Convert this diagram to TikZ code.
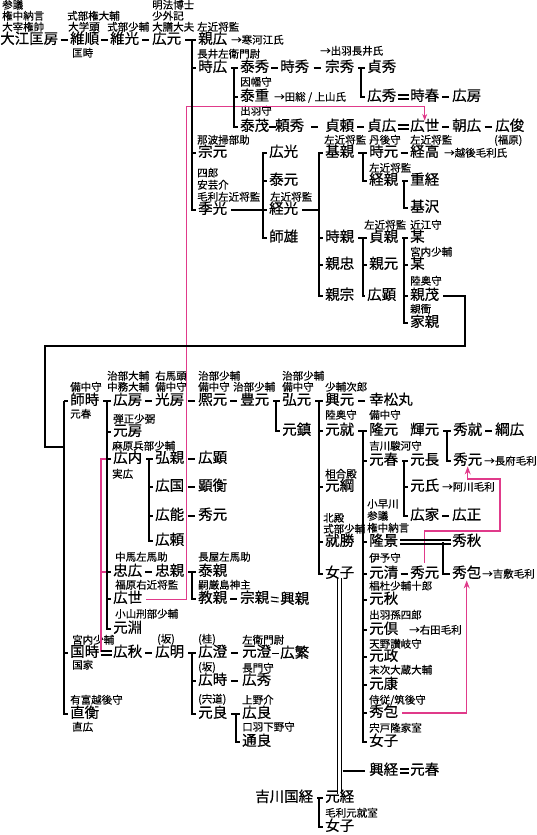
\documentclass[tikz,border=0pt]{standalone}
\usepackage{fontspec}
\setmainfont{Noto Sans CJK JP}
\newfontfamily\namefont[FakeBold=0.6]{Noto Sans CJK JP}
\newfontfamily\notefont[FakeBold=0.25]{Noto Sans CJK JP}
\usetikzlibrary{arrows.meta,calc}
\definecolor{tiepink}{HTML}{E03A8A}
\tikzset{
  every picture/.style={line join=miter, line cap=butt, >=Stealth},
  nm/.style={anchor=west, inner sep=0pt, text height=0.8em, text depth=0.05em, font=\namefont\fontsize{14.5}{16}\selectfont},
  nt/.style={anchor=west, inner sep=0pt, text height=0.8em, text depth=0.05em, font=\notefont\fontsize{10.5}{12}\selectfont},
  link/.style={line width=1.8pt},
  eqline/.style={line width=1.1pt},
  tie/.style={draw=tiepink, line width=1.1pt},
}
% parent -> children, the bar sits just left of the first child
\newcommand\kids[2]{%
  \foreach \c [count=\i] in {#2}{%
    \ifnum\i=1 \global\let\firstkid\c\fi
    \draw[link] ([xshift=4pt]#1.east) -| ($(\firstkid.west)+(-6pt,0)$) |- ([xshift=-2pt]\c.west);
  }}
\begin{document}
\begin{tikzpicture}[x=1pt,y=-1pt]
\useasboundingbox (0,0) rectangle (537,835);

% names
\foreach \n/\x/\y/\t in {
  masafusa/0/40/大江匡房, korenobu/70/40/維順, koremitsu/110/40/維光, hiromoto/152/40/広元,
  chikahiro/198/40/親広, tokihiro/198/68/時広, yasuhide/240/68/泰秀, tokihide/280/68/時秀,
  munehide/325/68/宗秀, sadahide/367/68/貞秀, hirohide/367/97/広秀, tokiharu/410/97/時春,
  hirofusa/452/97/広房, yasushige/240/97/泰重, yasumochi/240/127/泰茂, yorihide/275/127/頼秀,
  sadayori/325/127/貞頼, sadahiro/367/127/貞広, hiroyo/410/127/広世, tomohiro/452/127/朝広,
  hirotoshi/495/127/広俊, munemoto/198/153/宗元, suemitsu/198/210/季光, hiromitsu/269/153/広光,
  yasumoto/269/181/泰元, tsunemitsu/269/210/経光, morokatsu/269/238/師雄, motochika/325/153/基親,
  tokimoto/369/153/時元, tsunetaka/410/153/経高, tsunechika/369/181/経親, shigetsune/410/181/重経,
  motosawa/410/208/基沢, tokichika/325/238/時親, sadachika/369/238/貞親, bou/410/238/某,
  bou2/410/265/某, chikatada/325/265/親忠, chikamoto/369/265/親元, chikamune/325/296/親宗,
  hiroaki/367/296/広顕, chikashige/410/296/親茂, iechika/410/323/家親,
  morotoki/70/401/師時, hirofusa2/113/401/広房, mitsufusa/155/401/光房, hiromoto2/198/401/熈元,
  toyomoto/240/401/豊元, hiromoto3/282/401/弘元, okimoto/325/401/興元, koumatsu/369/401/幸松丸,
  motoshige/282/431/元鎮, motonari/325/431/元就, takamoto/369/431/隆元, terumoto/410/431/輝元,
  hidenari/453/431/秀就, tsunahiro/495/431/綱広, motoharu/369/461/元春, motonaga/410/461/元長,
  hidemoto/453/461/秀元, mototsuna/325/487/元綱, motouji/410/487/元氏, hiroie/410/516/広家,
  hiromasa/452/516/広正, narikatsu/325/542/就勝, takakage/369/542/隆景, hideaki/452/542/秀秋,
  jo/325/574/女子, motokiyo/369/574/元清, hidemoto2/410/574/秀元, hidekane/452/574/秀包,
  motoaki/369/600/元秋, mototomo/369/630/元倶, motomasa/369/657/元政, motoyasu/369/685/元康,
  hidekane2/369/713/秀包, jo2/369/742/女子, okitsune/369/771/興経, motoharu2/410/771/元春,
  kunitsune/255/798/吉川国経, mototsune/325/798/元経, jo3/325/827/女子,
  motofusa/113/432/元房, hirouchi/113/459/広内, hirochika/155/459/弘親, hiroaki2/198/459/広顕,
  hirokuni/155/487/広国, akihira/198/487/顕衡, hiroyoshi/155/516/広能, hidemoto3/198/516/秀元,
  hiroyori/155/541/広頼, tadahiro/113/572/忠広, tadachika/155/572/忠親, yasuchika/198/572/泰親,
  hiroyo2/113/599/広世, norichika/198/599/教親, munechika/240/599/宗親, okichika/280/600/興親,
  motobuchi/113/629/元淵, kunitoki/70/653/国時, hiroaki3/113/653/広秋, hiroaki4/155/653/広明,
  hirozumi/198/653/広澄, motozumi/242/653/元澄, hiroshige/280/654/広繁, hirotoki/198/681/広時,
  hirohide2/242/681/広秀, naohira/70/714/直衡, motoyoshi/198/714/元良, hiroyoshi2/242/714/広良,
  michiyoshi/242/742/通良}
  \node[nm] (\n) at (\x,\y) {\t};

% titles and remarks
\foreach \x/\y/\t [count=\i] in {
  2/5/参議, 2/16/権中納言, 2/27/大宰権帥, 67/16/式部権大輔, 68/27/大学頭, 72/53/匡時,
  107/27/式部少輔, 152/5/明法博士, 152/16/少外記, 152/27/大膳大夫, 197/27/左近将監,
  231/40/→寒河江氏, 197/54/長井左衛門尉, 320/51/→出羽長井氏, 240/82/因幡守,
  274/97/{→田総 / 上山氏}, 240/111/出羽守, 324/140/左近将監, 369/140/丹後守, 410/140/左近将監,
  494/140/(福原), 197/140/那波掃部助, 197/173/四郎, 197/185/安芸介, 197/197/毛利左近将監,
  270/197/左近将監, 444/153/→越後毛利氏, 369/168/左近将監, 364/225/左近将監, 410/225/近江守,
  410/252/宮内少輔, 410/281/陸奥守, 410/309/親衝,
  70/387/備中守, 107/376/治部大輔, 107/387/中務大輔, 155/376/右馬頭, 155/387/備中守,
  198/376/治部少輔, 198/387/備中守, 233/387/治部少輔, 282/376/治部少輔, 282/387/備中守,
  325/387/少輔次郎, 70/414/元春, 325/415/陸奥守, 369/415/備中守,
  113/419/弾正少弼, 112/446/麻原兵部少輔, 112/474/実広, 369/446/吉川駿河守, 484/461/→長府毛利,
  325/474/相合殿, 442/487/→阿川毛利, 367/504/小早川, 367/516/参議, 367/528/権中納言,
  323/518/北殿, 323/529/式部少輔, 369/558/伊予守, 482/574/→吉敷毛利, 369/586/椙杜少輔十郎,
  369/615/出羽孫四郎, 409/630/→右田毛利, 369/644/天野讃岐守, 369/670/末次大蔵大輔,
  369/700/{侍従/筑後守}, 369/728/宍戸隆家室, 325/813/毛利元就室,
  115/557/中馬左馬助, 198/557/長屋左馬助, 115/585/福原右近将監, 198/585/嗣厳島神主,
  115/614/小山刑部少輔, 72/640/宮内少輔, 157/639/(坂), 198/639/(桂), 242/640/左衛門尉,
  72/665/国家, 198/667/(坂), 242/668/長門守, 70/700/有富越後守, 72/727/直広,
  198/699/(宍道), 242/700/上野介, 242/727/口羽下野守}
  \node[nt] (note\i) at (\x,\y) {\t};

% adoptions
\coordinate (tieA) at (186,106);
\coordinate (tieB) at (101,651);
\coordinate (tieC) at (500,531);
\coordinate (tieD) at (500,479);
\draw[tie,line width=0.8pt,->] ([xshift=4pt]hiroyo2.east) -| (tieA) -| ([yshift=2pt]hiroyo.north);
\draw[tie] ([xshift=-2pt]hirouchi.west) -| (tieB) -- ([xshift=-1pt]hiroaki3.west |- tieB);
\draw[tie] (tieB |- tadahiro.west) -- ([xshift=-6pt]tadahiro.west);
\draw[tie,->] ([yshift=7pt]hidemoto2.north) |- (tieC) -- (tieD) -| ([yshift=-1pt]hidemoto.south);
\draw[tie,->] ([xshift=4pt]hidekane2.east) -| ([yshift=-2pt]hidekane.south);

% parent and child, one after another
\foreach \a/\b in {masafusa/korenobu, korenobu/koremitsu, koremitsu/hiromoto,
  yasuhide/tokihide, tokihide/munehide, tokiharu/hirofusa, yasumochi/yorihide,
  yorihide/sadayori, sadayori/sadahiro, hiroyo/tomohiro, tomohiro/hirotoshi,
  tokimoto/tsunetaka, hirofusa2/mitsufusa, mitsufusa/hiromoto2, hiromoto2/toyomoto,
  okimoto/koumatsu, hidenari/tsunahiro, hiroie/hiromasa, motokiyo/hidemoto2,
  hirochika/hiroaki2, hirokuni/akihira, hiroyoshi/hidemoto3, tadahiro/tadachika,
  norichika/munechika, hiroaki3/hiroaki4, hirozumi/motozumi, motozumi/hiroshige,
  hirotoki/hirohide2}
  \draw[link] ($(\a.east)!.5!(\b.west)$) +(-3.5pt,0) -- +(3.5pt,0);

% adopted heirs
\foreach \a/\b in {hirohide/tokiharu, sadahiro/hiroyo, munechika/okichika,
  okitsune/motoharu2, kunitoki/hiroaki3, takakage/hideaki}
  \draw[eqline] ([xshift=1.5pt,yshift=2pt]\a.east) -- ([xshift=-1.5pt,yshift=2pt]\b.west)
    ([xshift=1.5pt,yshift=-2pt]\a.east) -- ([xshift=-1.5pt,yshift=-2pt]\b.west);
\draw[link] ($(takakage.east -| hideaki.west)+(-9pt,0)$) |- ([xshift=-2pt]hidekane.west);

% families
\kids{hiromoto}{chikahiro,tokihiro,munemoto,suemitsu}
\kids{tokihiro}{yasuhide,yasushige,yasumochi}
\kids{munehide}{sadahide,hirohide}
\kids{suemitsu}{tsunemitsu,hiromitsu,yasumoto,morokatsu}
\kids{tsunemitsu}{motochika,tokichika,chikatada,chikamune}
\kids{motochika}{tokimoto,tsunechika}
\kids{tsunechika}{shigetsune,motosawa}
\kids{tokichika}{sadachika,chikamoto,hiroaki}
\kids{sadachika}{bou,bou2,chikashige,iechika}
\kids{morotoki}{hirofusa2,motofusa,hirouchi,tadahiro,hiroyo2,motobuchi}
\kids{hirouchi}{hirochika,hirokuni,hiroyoshi,hiroyori}
\kids{tadachika}{yasuchika,norichika}
\kids{hiroaki4}{hirozumi,hirotoki,motoyoshi}
\kids{motoyoshi}{hiroyoshi2,michiyoshi}
\kids{toyomoto}{hiromoto3,motoshige}
\kids{hiromoto3}{okimoto,motonari,mototsuna,narikatsu,jo}
\kids{motonari}{takamoto,motoharu,takakage,motokiyo,motoaki,mototomo,motomasa,motoyasu,hidekane2,jo2}
\kids{terumoto}{hidenari,hidemoto}
\kids{motoharu}{motonaga,motouji,hiroie}
\kids{kunitsune}{mototsune,jo3}

% 親茂 to the next generation
\coordinate (loopR) at (465,346);
\coordinate (loopL) at (45,447);
\draw[link] ([xshift=4pt]chikashige.east) -| (loopR) -| (loopL) -- ($(morotoki.west |- loopL)+(-6pt,0)$);
\foreach \c in {morotoki,kunitoki,naohira}
  \draw[link] ($(morotoki.west)+(-6pt,0)$) |- ([xshift=-2pt]\c.west);

% 女子 and 吉川元経
\draw[eqline] ([xshift=-2pt]jo.south) -- ([xshift=-2pt]mototsune.north)
  ([xshift=2pt]jo.south) -- ([xshift=2pt]mototsune.north);
\draw[link] ($(jo.south |- okitsune.west)+(3pt,0)$) -- ([xshift=-4pt]okitsune.west);
\end{tikzpicture}
\end{document}
